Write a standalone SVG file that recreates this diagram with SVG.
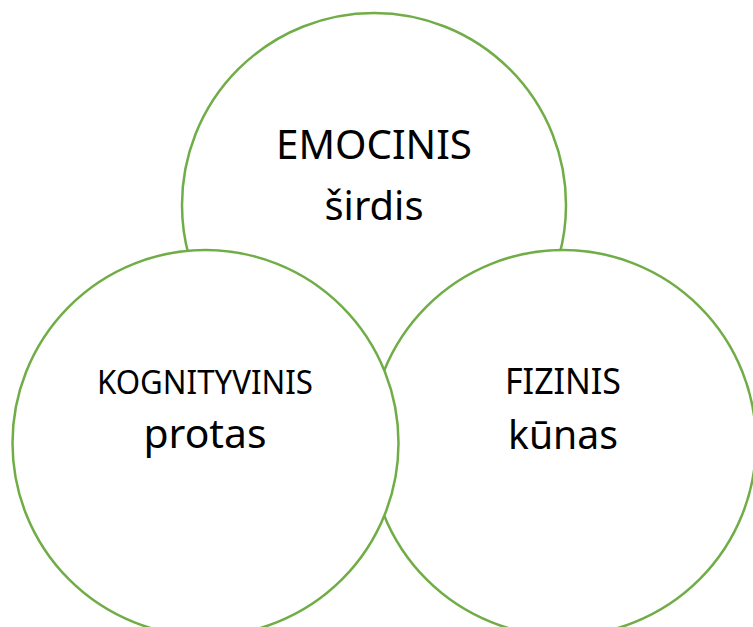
<svg xmlns="http://www.w3.org/2000/svg" width="753" height="627" viewBox="0 0 753 627">
<style>
.c{fill:#fff;stroke:#70AD47;stroke-width:2.5}
.t{font-family:"Noto Sans","Open Sans",sans-serif;fill:#000;text-anchor:middle}
</style>
<rect width="753" height="627" fill="#fff"/>
<g id="emocinis">
<circle class="c" cx="374" cy="205" r="192"/>
<text class="t" x="374" y="159" font-size="40" textLength="196" lengthAdjust="spacingAndGlyphs">EMOCINIS</text>
<text class="t" x="374" y="220" font-size="40" textLength="99" lengthAdjust="spacingAndGlyphs">širdis</text>
</g>
<g id="fizinis">
<circle class="c" cx="563" cy="443" r="193"/>
<text class="t" x="563" y="394" font-size="36" textLength="116" lengthAdjust="spacingAndGlyphs">FIZINIS</text>
<text class="t" x="563" y="449" font-size="40" textLength="110" lengthAdjust="spacingAndGlyphs">kūnas</text>
</g>
<g id="kognityvinis">
<circle class="c" cx="205.5" cy="443" r="193"/>
<text class="t" x="205" y="394" font-size="32" textLength="216" lengthAdjust="spacingAndGlyphs">KOGNITYVINIS</text>
<text class="t" x="205" y="448" font-size="40" textLength="123" lengthAdjust="spacingAndGlyphs">protas</text>
</g>
<g id="connectors"></g>
</svg>
